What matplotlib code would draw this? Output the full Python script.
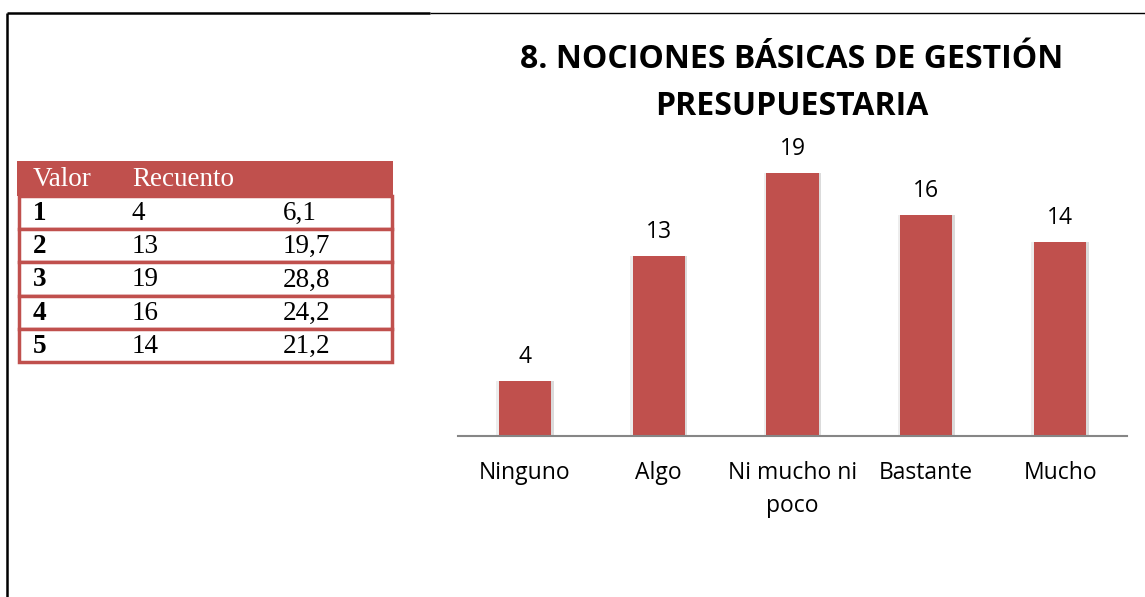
import matplotlib
matplotlib.use("Agg")
import matplotlib.pyplot as plt
from matplotlib.patches import Rectangle

# ---- data ----
categories = ["Ninguno", "Algo", "Ni mucho ni\npoco", "Bastante", "Mucho"]
counts = [4, 13, 19, 16, 14]
table_values = ["1", "2", "3", "4", "5"]
table_counts = ["4", "13", "19", "16", "14"]
table_percents = ["6,1", "19,7", "28,8", "24,2", "21,2"]
table_header = ["Valor", "Recuento"]
title = "8. NOCIONES BÁSICAS DE GESTIÓN\nPRESUPUESTARIA"

RED = "#C0504D"
W, H = 1145, 597
fig = plt.figure(figsize=(W / 100, H / 100), dpi=100)

# background axes in pixel coordinates for frame lines and table
bg = fig.add_axes([0, 0, 1, 1])
bg.set_xlim(0, W)
bg.set_ylim(H, 0)
bg.axis("off")

# page frame lines
bg.plot([7, 7], [13, H], color="black", lw=1.8, solid_capstyle="butt")
bg.plot([7, 430], [13, 13], color="black", lw=1.8, solid_capstyle="butt")
bg.plot([430, W], [13, 13], color="black", lw=1.0, solid_capstyle="butt")

# ---- table ----
tx0, tx1 = 17, 393
head_top, head_bot = 161, 196
row_h = 33.2
serif = "Liberation Serif"
fs_t = 19.5
bg.add_patch(Rectangle((tx0, head_top), tx1 - tx0, head_bot - head_top,
                       facecolor=RED, edgecolor=RED, lw=0))
bg.text(33, (head_top + head_bot) / 2 + 1, table_header[0], color="white",
        fontsize=fs_t, family=serif, va="center", ha="left")
bg.text(132, (head_top + head_bot) / 2 + 1, table_header[1], color="white",
        fontsize=fs_t, family=serif, va="center", ha="left")
for i in range(len(table_values)):
    y0 = head_bot + i * row_h
    bg.add_patch(Rectangle((tx0 + 1.5, y0), tx1 - tx0 - 3, row_h,
                           facecolor="white", edgecolor=RED, lw=2.5))
    yc = y0 + row_h / 2 + 1
    bg.text(33, yc, table_values[i], fontsize=fs_t, family=serif,
            weight="bold", va="center", ha="left")
    bg.text(132, yc, table_counts[i], fontsize=fs_t, family=serif,
            va="center", ha="left")
    bg.text(283, yc, table_percents[i], fontsize=fs_t, family=serif,
            va="center", ha="left")

# ---- bar chart ----
base_px = 436
ppu = 13.84
ytop = 21
ax = fig.add_axes([458 / W, (H - base_px) / H, 669 / W, ytop * ppu / H])
x = list(range(len(categories)))
# soft shadow
ax.bar(x, counts, width=0.43, color="#cccccc", alpha=0.35, zorder=1)
ax.bar([xi + 0.015 for xi in x], counts, width=0.40, color="#bbbbbb",
       alpha=0.35, zorder=1)
ax.bar(x, counts, width=0.39, color=RED, zorder=2)
ax.set_xlim(-0.5, len(categories) - 0.5)
ax.set_ylim(0, ytop)
for s in ["top", "right", "left"]:
    ax.spines[s].set_visible(False)
ax.spines["bottom"].set_color("#868686")
ax.spines["bottom"].set_linewidth(1.5)
ax.set_yticks([])
ax.set_xticks(x)
ax.set_xticklabels(categories, fontsize=16.5, family="Open Sans",
                   linespacing=1.5)
ax.tick_params(axis="x", length=0, pad=18)
for xi, v in zip(x, counts):
    ax.annotate(str(v), (xi, v), xytext=(0, 8.5), textcoords="offset points",
                ha="center", va="bottom", fontsize=16.5, family="Open Sans")

bg.text(792, 83, title, ha="center", va="center", fontsize=23,
        family="Open Sans", weight="bold", linespacing=1.55)

fig.savefig("out.png", dpi=100)
